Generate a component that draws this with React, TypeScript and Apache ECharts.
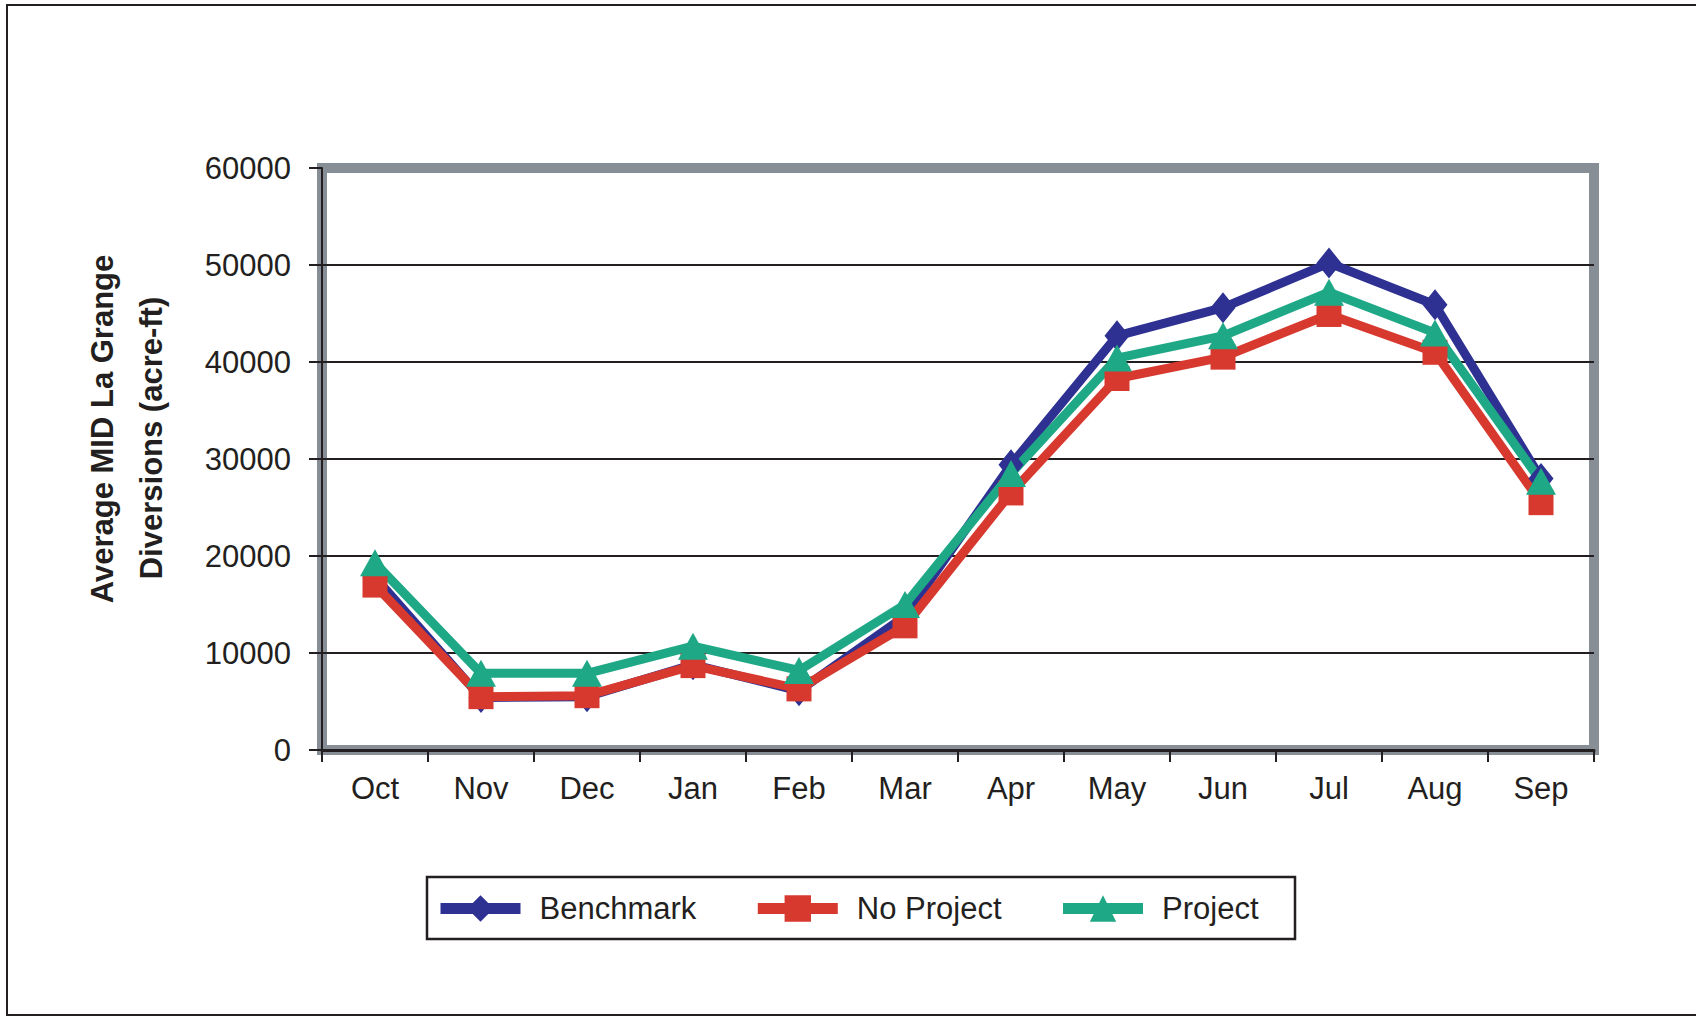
import React, { useEffect, useRef } from "react";
import * as echarts from "echarts";

const months = ["Oct", "Nov", "Dec", "Jan", "Feb", "Mar", "Apr", "May", "Jun", "Jul", "Aug", "Sep"];
const benchmark = [17800, 5400, 5500, 8800, 6100, 13800, 29400, 42700, 45600, 50200, 45900, 28000];
const noProject = [17000, 5500, 5600, 8700, 6300, 12800, 26500, 38300, 40500, 44900, 41000, 25500];
const project = [19300, 7900, 7900, 10700, 8200, 15000, 28500, 40400, 42700, 47200, 43000, 27700];
const yTicks = { min: 0, max: 60000, interval: 10000 };
const yTitleLines = ["Average MID La Grange", "Diversions (acre-ft)"];

const FONT = "'Liberation Sans', Arial, sans-serif";
const TXT = "#231F20";
const BLUE = "#2E3192";
const RED = "#D7392F";
const GREEN = "#1EA886";
const FRAME = "#878E96";

export default function App() {
  const ref = useRef<HTMLDivElement>(null);
  useEffect(() => {
    if (!ref.current) return;
    const chart = echarts.init(ref.current, null, { renderer: "svg" });
    const mk = (name: string, data: number[], color: string, symbol: string, size: any) => ({
      name,
      type: "line",
      data,
      symbol,
      symbolSize: size,
      showAllSymbol: true,
      lineStyle: { color, width: 9 },
      itemStyle: { color },
      emphasis: { disabled: true },
    });
    const titleText = (text: string, x: number, y: number) => ({
      type: "text",
      x,
      y,
      rotation: Math.PI / 2,
      style: {
        text,
        fontSize: 31,
        fontWeight: "bold",
        fontFamily: FONT,
        fill: TXT,
        align: "center",
        verticalAlign: "middle",
      },
      silent: true,
    });
    chart.setOption({
      animation: false,
      backgroundColor: "#FFFFFF",
      textStyle: { fontFamily: FONT, color: TXT },
      grid: {
        left: 322,
        right: 102,
        top: 168,
        bottom: 266,
        show: true,
        borderColor: FRAME,
        borderWidth: 10,
        backgroundColor: "transparent",
      },
      xAxis: {
        type: "category",
        data: months,
        boundaryGap: true,
        axisLine: { show: true, lineStyle: { color: TXT, width: 3 } },
        axisTick: { show: true, length: 12, lineStyle: { color: TXT, width: 2 } },
        axisLabel: { fontSize: 31, color: TXT, fontFamily: FONT, margin: 23 },
        splitLine: { show: false },
      },
      yAxis: {
        type: "value",
        min: yTicks.min,
        max: yTicks.max,
        interval: yTicks.interval,
        axisLine: { show: true, lineStyle: { color: TXT, width: 2 } },
        axisTick: { show: true, length: 13, lineStyle: { color: TXT, width: 2 } },
        axisLabel: {
          fontSize: 31,
          color: TXT,
          fontFamily: FONT,
          margin: 31,
          formatter: (v: number) => String(v),
        },
        splitLine: {
          show: true,
          lineStyle: {
            color: ["transparent", TXT, TXT, TXT, TXT, TXT, "transparent"],
            width: 2,
          },
        },
      },
      legend: {
        left: 435,
        top: 893,
        padding: 0,
        itemWidth: 80,
        itemHeight: 33,
        itemGap: 56,
        lineStyle: { width: 11 },
        textStyle: { fontSize: 31, color: TXT, fontFamily: FONT, padding: [0, 0, 0, 14] },
        data: ["Benchmark", "No Project", "Project"],
        selectedMode: false,
      },
      graphic: [
        {
          type: "rect",
          shape: { x: 7, y: 5, width: 1700, height: 1010 },
          style: { fill: "none", stroke: TXT, lineWidth: 2 },
          silent: true,
        },
        {
          type: "rect",
          shape: { x: 427, y: 877, width: 868, height: 62 },
          style: { fill: "none", stroke: TXT, lineWidth: 2.5 },
          silent: true,
        },
        titleText(yTitleLines[0], 102, 429),
        titleText(yTitleLines[1], 151, 438),
      ],
      series: [
        mk("Benchmark", benchmark, BLUE, "diamond", [25, 31]),
        mk("No Project", noProject, RED, "rect", 25),
        mk("Project", project, GREEN, "triangle", [30, 27]),
      ],
    });
    return () => chart.dispose();
  }, []);
  return (
    <div
      ref={ref}
      style={{ position: "fixed", left: 0, top: 0, width: 1696, height: 1016, background: "#fff" }}
    />
  );
}
